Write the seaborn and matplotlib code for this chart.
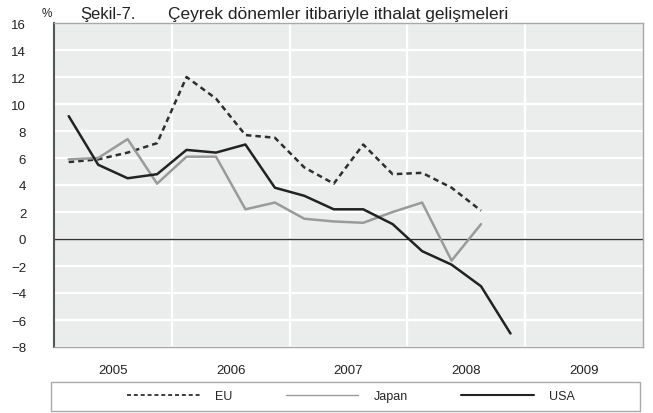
import numpy as np
import pandas as pd
import matplotlib.pyplot as plt
import seaborn as sns
from matplotlib.lines import Line2D
from matplotlib.patches import Rectangle

# Quarterly import growth, %
years = [2005, 2006, 2007, 2008, 2009]
quarter_labels = ['2005Q1', '2005Q2', '2005Q3', '2005Q4',
                  '2006Q1', '2006Q2', '2006Q3', '2006Q4',
                  '2007Q1', '2007Q2', '2007Q3', '2007Q4',
                  '2008Q1', '2008Q2', '2008Q3', '2008Q4']
eu = [5.7, 5.9, 6.4, 7.1, 12.0, 10.4, 7.7, 7.5, 5.3, 4.1, 7.0, 4.8, 4.9, 3.8, 2.1]
japan = [5.9, 6.0, 7.4, 4.1, 6.1, 6.1, 2.2, 2.7, 1.5, 1.3, 1.2, 2.0, 2.7, -1.6, 1.1]
usa = [9.1, 5.5, 4.5, 4.8, 6.6, 6.4, 7.0, 3.8, 3.2, 2.2, 2.2, 1.1, -0.9, -1.9, -3.5, -7.0]
y_ticks = list(range(-8, 17, 2))


def quarter_pos(label):
    # middle of the quarter on a continuous year axis
    return int(label[:4]) + (int(label[-1]) - 0.5) / 4


rows = []
for name, vals in [('EU', eu), ('Japan', japan), ('USA', usa)]:
    for q, v in zip(quarter_labels, vals):
        rows.append({'series': name, 'x': quarter_pos(q), 'value': v})
df = pd.DataFrame(rows)

sns.set_style('darkgrid', {'axes.facecolor': '#ebecec', 'grid.color': 'white'})
plt.rcParams['font.family'] = ['Liberation Sans', 'DejaVu Sans']

colors = {'EU': '#2e2e2e', 'Japan': '#9a9a9a', 'USA': '#222222'}
dashes = {'EU': (2.2, 1.6), 'Japan': '', 'USA': ''}

fig = plt.figure(figsize=(6.53, 4.14), dpi=100)
ax = fig.add_axes([54 / 653, 66 / 414, 589 / 653, 324 / 414])

sns.lineplot(data=df, x='x', y='value', hue='series', style='series',
             palette=colors, dashes=dashes, linewidth=1.8, legend=False, ax=ax)

ax.axhline(0, color='#333333', linewidth=1.0, zorder=1.5)

ax.set_xlim(years[0], years[-1] + 1)
ax.set_ylim(-8, 16)
ax.set_yticks(y_ticks)
ax.set_xticks([y + 1 for y in years[:-1]], minor=False)
ax.set_xticklabels([])
ax.set_xticks([y + 0.5 for y in years], minor=True)
ax.set_xticklabels([str(y) for y in years], minor=True)
ax.grid(True, which='major', axis='both', color='white', linewidth=1.6)
ax.grid(False, which='minor')
ax.tick_params(axis='both', which='both', length=0, labelsize=9.5, colors='#222222')
ax.tick_params(axis='y', pad=20)
ax.tick_params(axis='x', which='minor', pad=12)
ax.set_xlabel('')
ax.set_ylabel('')

for side in ['top', 'right', 'bottom']:
    ax.spines[side].set_visible(True)
    ax.spines[side].set_color('#a8a8a8')
    ax.spines[side].set_linewidth(1.0)
ax.spines['left'].set_visible(True)
ax.spines['left'].set_color('#555555')
ax.spines['left'].set_linewidth(1.5)

fig.text(42 / 653, 1 - 14 / 414, '%', fontsize=8.5, va='center', ha='left', color='#222222')
fig.text(80 / 653, 1 - 14 / 414, 'Şekil-7.', fontsize=12, va='center', ha='left', color='#222222')
fig.text(168 / 653, 1 - 14 / 414, 'Çeyrek dönemler itibariyle ithalat gelişmeleri',
         fontsize=12.5, va='center', ha='left', color='#222222')

# legend box below the axes
fig.patches.append(Rectangle((51 / 653, 2 / 414), 589 / 653, 29 / 414,
                             transform=fig.transFigure, fill=False,
                             edgecolor='#aaaaaa', linewidth=1.0))
handles = [Line2D([], [], color=colors['EU'], linestyle=(0, (2.2, 1.6)), linewidth=1.3),
           Line2D([], [], color=colors['Japan'], linewidth=1.0),
           Line2D([], [], color=colors['USA'], linewidth=1.5)]
fig.legend(handles, ['EU', 'Japan', 'USA'], loc='center', ncol=3,
           bbox_to_anchor=(351 / 653, 16.5 / 414), frameon=False,
           handlelength=5.8, columnspacing=4.3, handletextpad=1.2, fontsize=9)

fig.savefig('out.png', dpi=100)
